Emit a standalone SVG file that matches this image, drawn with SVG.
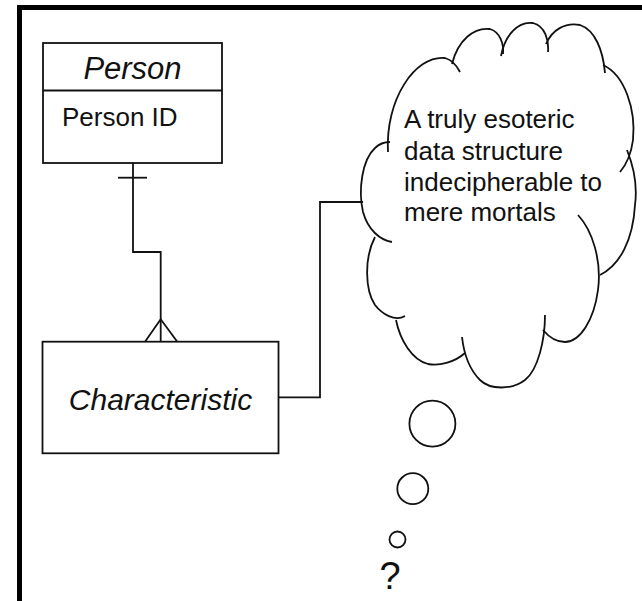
<svg xmlns="http://www.w3.org/2000/svg" width="642" height="601" viewBox="0 0 642 601">
<style>
.ln{fill:none;stroke:#111;stroke-width:1.8;stroke-linecap:butt;stroke-linejoin:miter}
.box{fill:#fff;stroke:#111;stroke-width:1.8}
.t{font-family:"Liberation Sans",Arial,sans-serif;fill:#111}
.it{font-style:italic}
</style>
<rect width="642" height="601" fill="#fff"/>
<g id="frame">
<rect x="17" y="5" width="625" height="5" fill="#000"/>
<rect x="17" y="5" width="5" height="596" fill="#000"/>
</g>
<g id="connectors">
<path class="ln" d="M133,163 V252 H160.7 V341.7"/>
<path class="ln" d="M118,177.7 H147"/>
<path class="ln" d="M145,341.7 L160.7,319.3 L177.3,341.7"/>
<path class="ln" d="M278.3,397.3 H320 V202 H363"/>
</g>
<g id="person">
<rect class="box" x="43" y="43" width="179" height="120"/>
<line class="ln" x1="43" y1="90.5" x2="222" y2="90.5"/>
<text class="t it" x="132.5" y="79" font-size="31" text-anchor="middle">Person</text>
<text class="t" x="62" y="126" font-size="26">Person ID</text>
</g>
<g id="characteristic">
<rect class="box" x="42.5" y="341.7" width="236" height="111.6"/>
<text class="t it" x="160.5" y="410" font-size="30" text-anchor="middle">Characteristic</text>
</g>
<g id="cloud">
<path class="ln" d="M388,152 C385,100 415,55 445,58 C452,60 457,66 460,72"/>
<path class="ln" d="M452,64 C458,40 474,27 490,29 C500,32 504,44 503,54"/>
<path class="ln" d="M501,56 C505,35 518,21 533,23 C545,26 549,40 548,52"/>
<path class="ln" d="M546,44 C552,30 565,22 580,25 C595,30 603,50 605,73"/>
<path class="ln" d="M603,65 C625,75 636,110 633,140 C631,155 626,165 620,172"/>
<path class="ln" d="M627,150 C635,170 637,190 635,205 C633,240 620,265 600,275"/>
<path class="ln" d="M578,215 C592,230 602,260 598,290 C594,320 580,342 565,342 C555,342 548,336 543,330"/>
<path class="ln" d="M545,315 C545,340 538,370 525,380 C512,390 490,390 480,380 C470,370 464,355 462,337"/>
<path class="ln" d="M465,353 C455,362 440,366 428,364 C412,360 400,340 396,320"/>
<path class="ln" d="M405,316 C395,322 382,314 375,305 C365,290 364,258 375,237"/>
<path class="ln" d="M392,242 C380,240 368,230 363,212 C358,190 362,160 375,148 C380,143 385,142 390,142"/>
<text class="t" font-size="26">
<tspan x="404" y="128">A truly esoteric</tspan>
<tspan x="404" y="159.5">data structure</tspan>
<tspan x="404" y="191">indecipherable to</tspan>
<tspan x="404" y="221">mere mortals</tspan>
</text>
</g>
<g id="bubbles">
<circle class="ln" cx="432.4" cy="423.7" r="23"/>
<circle class="ln" cx="412.8" cy="488.7" r="15.5"/>
<circle class="ln" cx="397.5" cy="539.5" r="8"/>
<text class="t" x="390" y="589.3" font-size="38" text-anchor="middle">?</text>
</g>
</svg>
